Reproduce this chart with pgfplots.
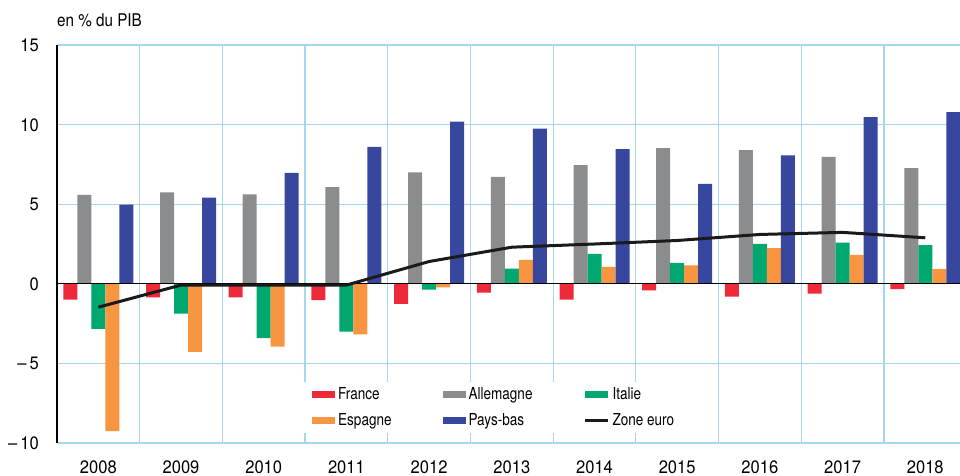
\documentclass[border=0pt]{standalone}
\usepackage{pgfplots}
\pgfplotsset{compat=1.18}
\usepackage{fontspec}
\setmainfont{TeX Gyre Heros}[FakeStretch=0.85]
\newfontfamily\tickfont{TeX Gyre Heros}[FakeStretch=0.92]
\newfontfamily\legfont{TeX Gyre Heros}[FakeStretch=0.82]
\newfontfamily\titfont{TeX Gyre Heros}[FakeStretch=0.87]
\definecolor{frred}{HTML}{EE2A3A}
\definecolor{degrey}{HTML}{8A8C8E}
\definecolor{itgreen}{HTML}{00A870}
\definecolor{esorange}{HTML}{F79540}
\definecolor{nlblue}{HTML}{37479D}
\definecolor{gridblue}{HTML}{A8D6EF}
\definecolor{zeblack}{HTML}{1A1A1A}
\begin{document}
\begin{tikzpicture}
\begin{axis}[
  name=ax,
  at={(0,0)}, anchor=south west,
  scale only axis, width=903pt, height=398pt,
  xmin=-0.5, xmax=10.42, ymin=-10, ymax=15,
  axis line style={draw=none},
  xtick={0,...,10},
  xticklabels={2008,2009,2010,2011,2012,2013,2014,2015,2016,2017,2018},
  minor xtick={0.5,1.5,...,9.5},
  xminorgrids=true, xmajorgrids=false,
  ytick={-10,-5,0,5,10,15},
  yticklabels={–\,10,–\,5,0,5,10,15},
  ymajorgrids=true,
  grid style={gridblue, line width=1.2pt},
  minor grid style={gridblue, line width=1.2pt},
  major tick length=0pt, minor tick length=0pt,
  xticklabel style={font=\fontsize{18}{21}\tickfont, anchor=base, yshift=-30pt, inner sep=0pt},
  yticklabel style={font=\fontsize{18}{21}\tickfont, anchor=base east, xshift=-18pt, yshift=-6.5pt, inner sep=0pt},
  legend columns=3,
  legend style={draw=none, fill=white, font=\fontsize{16.5}{19}\legfont,
    at={(axis description cs:0.2691,0.0251)}, anchor=south west,
    inner xsep=12pt, inner ysep=4pt, row sep=8pt,
    nodes={inner xsep=3pt},
    /tikz/every even column/.append style={column sep=48pt}},
  legend cell align=left,
]
\addplot[ybar, bar width=14pt, bar shift=-28pt, fill=frred, draw=none,
  legend image code/.code={\fill[frred] (0pt,-3.5pt) rectangle (23pt,3.5pt);}]
  coordinates {(0,-1.0) (1,-0.86) (2,-0.86) (3,-1.03) (4,-1.26) (5,-0.55) (6,-1.0) (7,-0.42) (8,-0.8) (9,-0.61) (10,-0.33)};
\addlegendentry{France}
\addplot[ybar, bar width=14pt, bar shift=-14pt, fill=degrey, draw=none,
  legend image code/.code={\fill[degrey] (0pt,-3.5pt) rectangle (23pt,3.5pt);}]
  coordinates {(0,5.59) (1,5.74) (2,5.61) (3,6.08) (4,7.0) (5,6.72) (6,7.45) (7,8.52) (8,8.4) (9,7.98) (10,7.27)};
\addlegendentry{Allemagne}
\addplot[ybar, bar width=14pt, bar shift=0pt, fill=itgreen, draw=none,
  legend image code/.code={\fill[itgreen] (0pt,-3.5pt) rectangle (23pt,3.5pt);}]
  coordinates {(0,-2.83) (1,-1.88) (2,-3.41) (3,-3.0) (4,-0.36) (5,0.96) (6,1.88) (7,1.32) (8,2.51) (9,2.58) (10,2.43)};
\addlegendentry{Italie}
\addplot[ybar, bar width=14pt, bar shift=14pt, fill=esorange, draw=none,
  legend image code/.code={\fill[esorange] (0pt,-3.5pt) rectangle (23pt,3.5pt);}]
  coordinates {(0,-9.25) (1,-4.27) (2,-3.94) (3,-3.18) (4,-0.23) (5,1.5) (6,1.07) (7,1.15) (8,2.24) (9,1.82) (10,0.92)};
\addlegendentry{Espagne}
\addplot[ybar, bar width=14pt, bar shift=28pt, fill=nlblue, draw=none,
  legend image code/.code={\fill[nlblue] (0pt,-3.5pt) rectangle (23pt,3.5pt);}]
  coordinates {(0,4.98) (1,5.42) (2,6.97) (3,8.6) (4,10.18) (5,9.74) (6,8.46) (7,6.28) (8,8.06) (9,10.47) (10,10.78)};
\addlegendentry{Pays-bas}
\draw[black, line width=1pt] (axis cs:-0.5,0) -- (axis cs:10.42,0);
\addplot[sharp plot, no markers, zeblack, line width=3pt,
  legend image code/.code={\draw[zeblack, line width=3pt] (0pt,0pt) -- (23pt,0pt);}]
  coordinates {(0,-1.47) (1,-0.08) (2,-0.08) (3,-0.08) (4,1.4) (5,2.3) (6,2.5) (7,2.72) (8,3.1) (9,3.23) (10,2.89)};
\addlegendentry{Zone euro}
\end{axis}
\draw[black, line width=1.5pt] (ax.south west) -- (ax.north west);
\node[anchor=base west, inner sep=0pt, font=\fontsize{17.5}{21}\titfont] at ([yshift=19pt]ax.north west) {en \% du PIB};
\pgfresetboundingbox
\useasboundingbox (-57pt,-32pt) rectangle (903pt,443pt);
\end{tikzpicture}
\end{document}
